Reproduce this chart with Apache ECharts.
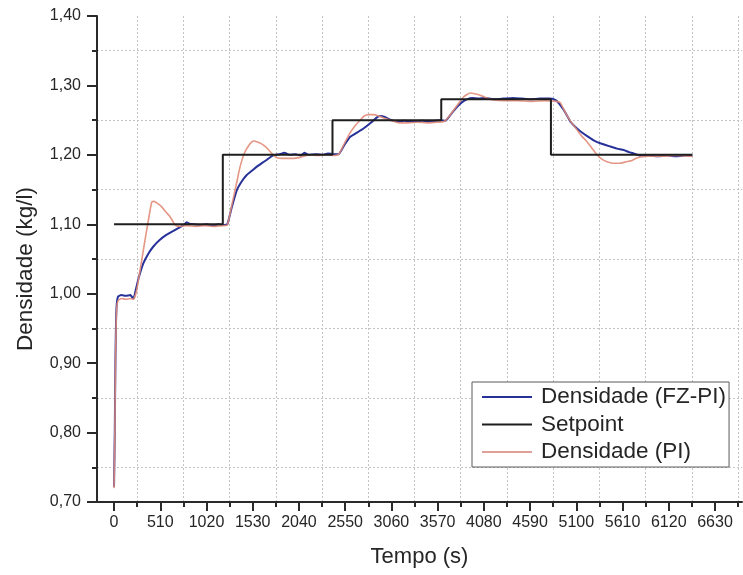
<!DOCTYPE html>
<html>
<head>
<meta charset="utf-8">
<title>Densidade vs Tempo</title>
<script src="https://cdn.jsdelivr.net/npm/echarts@6/dist/echarts.min.js"></script>
<style>
  html, body { margin: 0; padding: 0; background: #fff; }
  #chart { width: 743px; height: 575px; }
</style>
</head>
<body>
<div id="chart"></div>
<script>
// Setpoint steps (s, kg/l)
const setpointTime  = [0, 1200, 2410, 3610, 4820, 6380];
const setpointValue = [1.10, 1.20, 1.25, 1.28, 1.20, 1.20];

// Density response with the fuzzy PI controller
const fzTime = [0, 8, 15, 22, 30, 45, 80, 130, 180, 200, 215, 235, 270, 324, 380, 434, 500, 581, 650, 729,
  770, 802, 830, 876, 950, 1020, 1090, 1150, 1210, 1250, 1300, 1354, 1410, 1464, 1520, 1575, 1630, 1686, 1740, 1777,
  1830, 1880, 1940, 2000, 2060, 2100, 2150, 2230, 2300, 2360, 2420, 2477, 2540, 2605, 2680, 2752, 2840, 2900, 2937, 2980,
  3010, 3060, 3120, 3200, 3300, 3400, 3500, 3600, 3654, 3720, 3783, 3840, 3893, 3950, 4020, 4100, 4200, 4300, 4400, 4500,
  4600, 4700, 4800, 4868, 4910, 4960, 5000, 5034, 5090, 5144, 5220, 5291, 5380, 5476, 5550, 5623, 5680, 5733, 5807, 5900,
  6000, 6100, 6200, 6300, 6380];
const fzDensity = [0.722, 0.80, 0.90, 0.96, 0.985, 0.996, 0.998, 0.997, 0.998, 0.995, 0.993, 1.003, 1.022, 1.044, 1.058, 1.068, 1.077, 1.085, 1.090, 1.096,
  1.099, 1.103, 1.101, 1.100, 1.099, 1.100, 1.098, 1.100, 1.099, 1.100, 1.125, 1.149, 1.162, 1.171, 1.177, 1.183, 1.188, 1.193, 1.198, 1.200,
  1.201, 1.203, 1.200, 1.201, 1.199, 1.203, 1.200, 1.201, 1.200, 1.202, 1.201, 1.201, 1.214, 1.226, 1.232, 1.238, 1.247, 1.254, 1.256, 1.255,
  1.253, 1.250, 1.248, 1.249, 1.248, 1.249, 1.248, 1.250, 1.249, 1.259, 1.269, 1.276, 1.280, 1.282, 1.281, 1.282, 1.280, 1.281, 1.282, 1.281,
  1.280, 1.281, 1.281, 1.279, 1.274, 1.265, 1.256, 1.248, 1.240, 1.234, 1.227, 1.221, 1.216, 1.212, 1.209, 1.207, 1.204, 1.202, 1.199, 1.199,
  1.198, 1.199, 1.198, 1.199, 1.199];

// Density response with the conventional PI controller
const piTime = [0, 8, 15, 22, 30, 45, 80, 130, 180, 215, 250, 290, 330, 370, 400, 416, 440, 480, 526, 570,
  618, 650, 673, 729, 800, 900, 1000, 1100, 1200, 1250, 1300, 1350, 1391, 1440, 1500, 1538, 1590, 1649, 1700, 1741,
  1796, 1880, 1980, 2040, 2090, 2150, 2250, 2350, 2440, 2480, 2540, 2605, 2660, 2716, 2760, 2807, 2860, 2920, 2973, 3047,
  3157, 3250, 3350, 3450, 3550, 3640, 3700, 3801, 3860, 3930, 3980, 4040, 4110, 4187, 4300, 4450, 4600, 4750, 4880, 4923,
  4960, 4997, 5050, 5108, 5160, 5218, 5270, 5329, 5390, 5439, 5500, 5586, 5650, 5715, 5760, 5807, 5900, 6050, 6200, 6380];
const piDensity = [0.720, 0.79, 0.89, 0.95, 0.980, 0.990, 0.993, 0.992, 0.993, 0.992, 1.005, 1.036, 1.068, 1.099, 1.122, 1.132, 1.133, 1.130, 1.125, 1.118,
  1.111, 1.104, 1.099, 1.097, 1.098, 1.097, 1.098, 1.097, 1.098, 1.099, 1.128, 1.158, 1.183, 1.203, 1.216, 1.220, 1.218, 1.214, 1.208, 1.202,
  1.196, 1.195, 1.195, 1.196, 1.198, 1.200, 1.199, 1.200, 1.199, 1.201, 1.216, 1.232, 1.242, 1.250, 1.256, 1.258, 1.258, 1.256, 1.253, 1.250,
  1.246, 1.246, 1.247, 1.246, 1.247, 1.248, 1.256, 1.274, 1.284, 1.289, 1.288, 1.286, 1.282, 1.279, 1.278, 1.278, 1.277, 1.278, 1.277, 1.275,
  1.266, 1.257, 1.246, 1.236, 1.227, 1.219, 1.210, 1.200, 1.193, 1.190, 1.188, 1.188, 1.190, 1.192, 1.195, 1.197, 1.198, 1.198, 1.199, 1.198];

// Axis ticks
const xMajorTicks = [0, 510, 1020, 1530, 2040, 2550, 3060, 3570, 4080, 4590, 5100, 5610, 6120, 6630];
const xMinorTicks = [255, 765, 1275, 1785, 2295, 2805, 3315, 3825, 4335, 4845, 5355, 5865, 6375, 6885];

const zip = (a, b) => a.map((t, i) => [t, b[i]]);

const FONT = 'Liberation Sans, Arial, sans-serif';
const TEXT = '#262626';
const AXIS = '#2a2a2a';
const GRIDLINE = { show: true, lineStyle: { color: '#c4c4c4', type: [2, 2], width: 1 } };

const xRange = { min: -188, max: 6928 };

const chart = echarts.init(document.getElementById('chart'), null, { renderer: 'canvas' });
chart.setOption({
  animation: false,
  backgroundColor: '#fff',
  textStyle: { fontFamily: FONT },
  grid: { left: 97, right: 1, top: 16, bottom: 73, containLabel: false },
  legend: {
    orient: 'vertical',
    left: 472, top: 382,
    padding: [3, 3, 3, 10],
    itemGap: 3.5,
    itemWidth: 50, itemHeight: 2,
    icon: 'rect',
    backgroundColor: '#fff',
    borderColor: '#5a5a5a', borderWidth: 1,
    data: ['Densidade (FZ-PI)', 'Setpoint', 'Densidade (PI)'],
    textStyle: { fontFamily: FONT, fontSize: 22.5, color: TEXT, lineHeight: 24, padding: [0, 0, 0, 4] }
  },
  xAxis: [
    {
      type: 'value', ...xRange,
      name: 'Tempo (s)', nameLocation: 'middle', nameGap: 44,
      nameTextStyle: { fontFamily: FONT, fontSize: 22, color: TEXT },
      axisLine: { show: true, onZero: false, lineStyle: { color: AXIS, width: 2 } },
      axisTick: { show: true, inside: false, length: 9, customValues: xMajorTicks, lineStyle: { color: AXIS, width: 2 } },
      axisLabel: {
        show: true, customValues: xMajorTicks, margin: 13, fontFamily: FONT, fontSize: 16, color: TEXT,
        formatter: v => String(Math.round(v))
      },
      splitLine: { show: false }
    },
    {
      type: 'value', ...xRange, position: 'bottom',
      axisLine: { show: false, onZero: false },
      axisTick: { show: true, length: 5, customValues: xMinorTicks, lineStyle: { color: AXIS, width: 2 } },
      axisLabel: { show: false },
      splitLine: GRIDLINE
    }
  ],
  yAxis: {
    type: 'value', min: 0.7, max: 1.4, interval: 0.1,
    name: 'Densidade (kg/l)', nameLocation: 'middle', nameGap: 60,
    nameTextStyle: { fontFamily: FONT, fontSize: 22.5, color: TEXT, padding: [0, 20, 0, 0] },
    axisLine: { show: true, onZero: false, lineStyle: { color: AXIS, width: 2 } },
    axisTick: { show: true, length: 10, lineStyle: { color: AXIS, width: 2 } },
    minorTick: { show: true, splitNumber: 2, length: 5, lineStyle: { color: AXIS, width: 2 } },
    axisLabel: {
      margin: 16, fontFamily: FONT, fontSize: 16, color: TEXT,
      formatter: v => v.toFixed(2).replace('.', ',')
    },
    splitLine: { show: false },
    minorSplitLine: GRIDLINE
  },
  series: [
    {
      name: 'Densidade (FZ-PI)', type: 'line', xAxisIndex: 0,
      data: zip(fzTime, fzDensity), symbol: 'none', smooth: 0.15,
      lineStyle: { color: '#27319a', width: 2 }, itemStyle: { color: '#27319a' }, z: 3
    },
    {
      name: 'Densidade (PI)', type: 'line', xAxisIndex: 0,
      data: zip(piTime, piDensity), symbol: 'none', smooth: 0.15,
      lineStyle: { color: '#e28c78', width: 1.6, opacity: 0.9 }, itemStyle: { color: '#e0a09a' }, z: 4
    },
    {
      name: 'Setpoint', type: 'line', xAxisIndex: 0, step: 'end',
      data: zip(setpointTime, setpointValue), symbol: 'none',
      lineStyle: { color: '#1e1e1e', width: 2 }, itemStyle: { color: '#1e1e1e' }, z: 5
    }
  ]
});
</script>
</body>
</html>
